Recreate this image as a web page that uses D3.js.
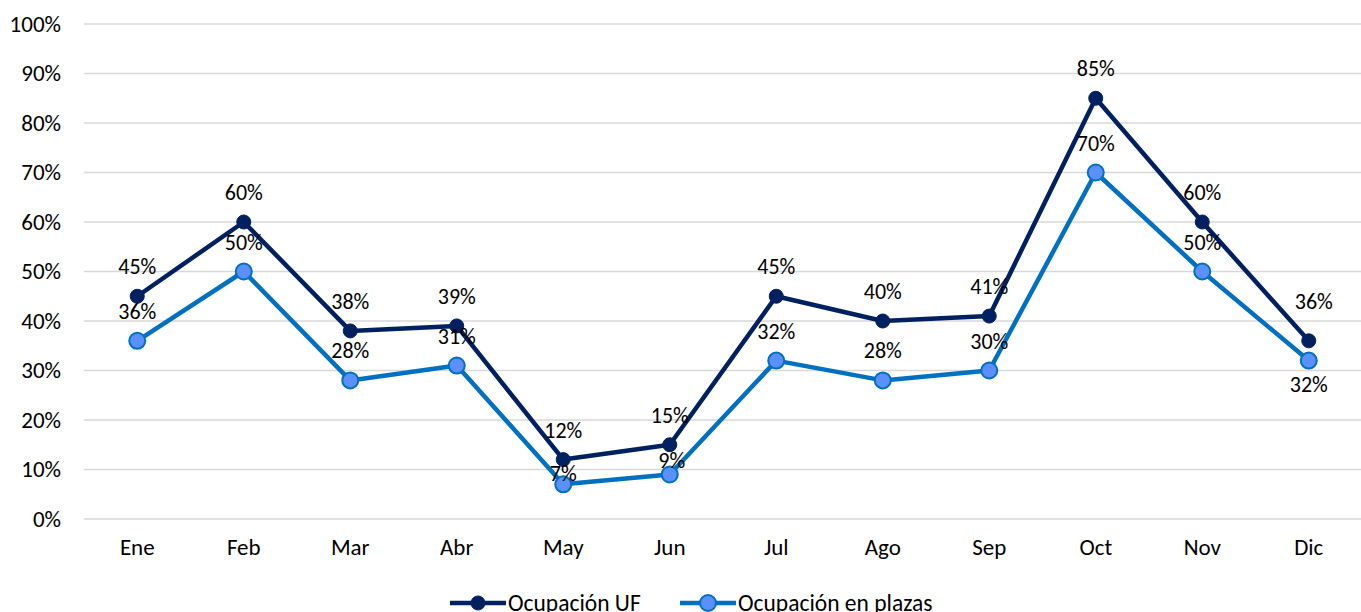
<!DOCTYPE html>
<html>
<head>
<meta charset="utf-8">
<script src="https://cdn.jsdelivr.net/npm/d3@7"></script>
<style>
body { margin: 0; background: #fff; }
svg text { font-family: Carlito, Calibri, Lato, "Open Sans", sans-serif; fill: #000; }
</style>
</head>
<body>
<svg id="chart" width="1361" height="612"></svg>
<script>
var months = ["Ene", "Feb", "Mar", "Abr", "May", "Jun", "Jul", "Ago", "Sep", "Oct", "Nov", "Dic"];
var ocupUF = [45, 60, 38, 39, 12, 15, 45, 40, 41, 85, 60, 36];
var ocupPlazas = [36, 50, 28, 31, 7, 9, 32, 28, 30, 70, 50, 32];
var yTicks = [0, 10, 20, 30, 40, 50, 60, 70, 80, 90, 100];
var seriesNames = ["Ocupación UF", "Ocupación en plazas"];

var svg = d3.select('#chart');
var pLeft = 84, pRight = 1362, pTop = 24, pBottom = 519;

var x = d3.scaleBand().domain(months).range([pLeft, pRight]);
var y = d3.scaleLinear().domain([0, 100]).range([pBottom, pTop]);

// grid
svg.append('g').selectAll('line').data(yTicks).enter().append('line')
    .attr('x1', pLeft).attr('x2', pRight)
    .attr('y1', function (d) { return y(d); }).attr('y2', function (d) { return y(d); })
    .attr('stroke', '#d9d9d9').attr('stroke-width', 1.5);

var yAxis = svg.append('g').attr('transform', 'translate(' + pLeft + ',0)')
    .call(d3.axisLeft(y).tickValues(yTicks).tickSize(0).tickPadding(23).tickFormat(function (d) { return d + '%'; }));
yAxis.select('.domain').remove();
yAxis.selectAll('text').style('font-size', '23px');

var xAxis = svg.append('g').attr('transform', 'translate(0,' + pBottom + ')')
    .call(d3.axisBottom(x).tickSize(0).tickPadding(20));
xAxis.select('.domain').remove();
xAxis.selectAll('text').style('font-size', '23px');

var cx = function (d, i) { return x(months[i]) + x.bandwidth() / 2; };

// label tweaks (Excel places a few labels differently)
var series = [
    { name: seriesNames[0], values: ocupUF, line: '#002060', fill: '#002060', stroke: '#002060', r: 7, sw: 1,
      nudge: { 11: [5, -10] } },
    { name: seriesNames[1], values: ocupPlazas, line: '#0070c0', fill: '#5b8ff9', stroke: '#0070c0', r: 8, sw: 2,
      nudge: { 4: [0, 19], 5: [2, 16], 11: [0, 53] } }
];

series.forEach(function (s) {
    var line = d3.line().x(function (d, i) { return cx(d, i); }).y(function (d) { return y(d); });
    svg.append('path').datum(s.values).attr('d', line)
        .attr('fill', 'none').attr('stroke', s.line).attr('stroke-width', 4.5).attr('stroke-linejoin', 'round');
});
series.forEach(function (s) {
    svg.append('g').selectAll('circle').data(s.values).enter().append('circle')
        .attr('cx', cx).attr('cy', function (d) { return y(d); }).attr('r', s.r)
        .attr('fill', s.fill).attr('stroke', s.stroke).attr('stroke-width', s.sw);
});

series.forEach(function (s) {
    svg.append('g').selectAll('text').data(s.values).enter().append('text')
        .attr('x', function (d, i) { return cx(d, i) + (s.nudge[i] ? s.nudge[i][0] : 0); })
        .attr('y', function (d, i) { return y(d) - 22 + (s.nudge[i] ? s.nudge[i][1] : 0); })
        .attr('text-anchor', 'middle').style('font-size', '22px')
        .text(function (d) { return d + '%'; });
});

// legend
var legend = svg.append('g').attr('transform', 'translate(450,603)');
var offs = [0, 230];
series.forEach(function (s, k) {
    var g = legend.append('g').attr('transform', 'translate(' + offs[k] + ',0)');
    g.append('line').attr('x1', 0).attr('x2', 56).attr('y1', 0).attr('y2', 0)
        .attr('stroke', s.line).attr('stroke-width', 4.5);
    g.append('circle').attr('cx', 28).attr('cy', 0).attr('r', s.r)
        .attr('fill', s.fill).attr('stroke', s.stroke).attr('stroke-width', s.sw);
    g.append('text').attr('x', 58).attr('y', 8).style('font-size', '23.5px').text(s.name);
});
</script>
</body>
</html>
